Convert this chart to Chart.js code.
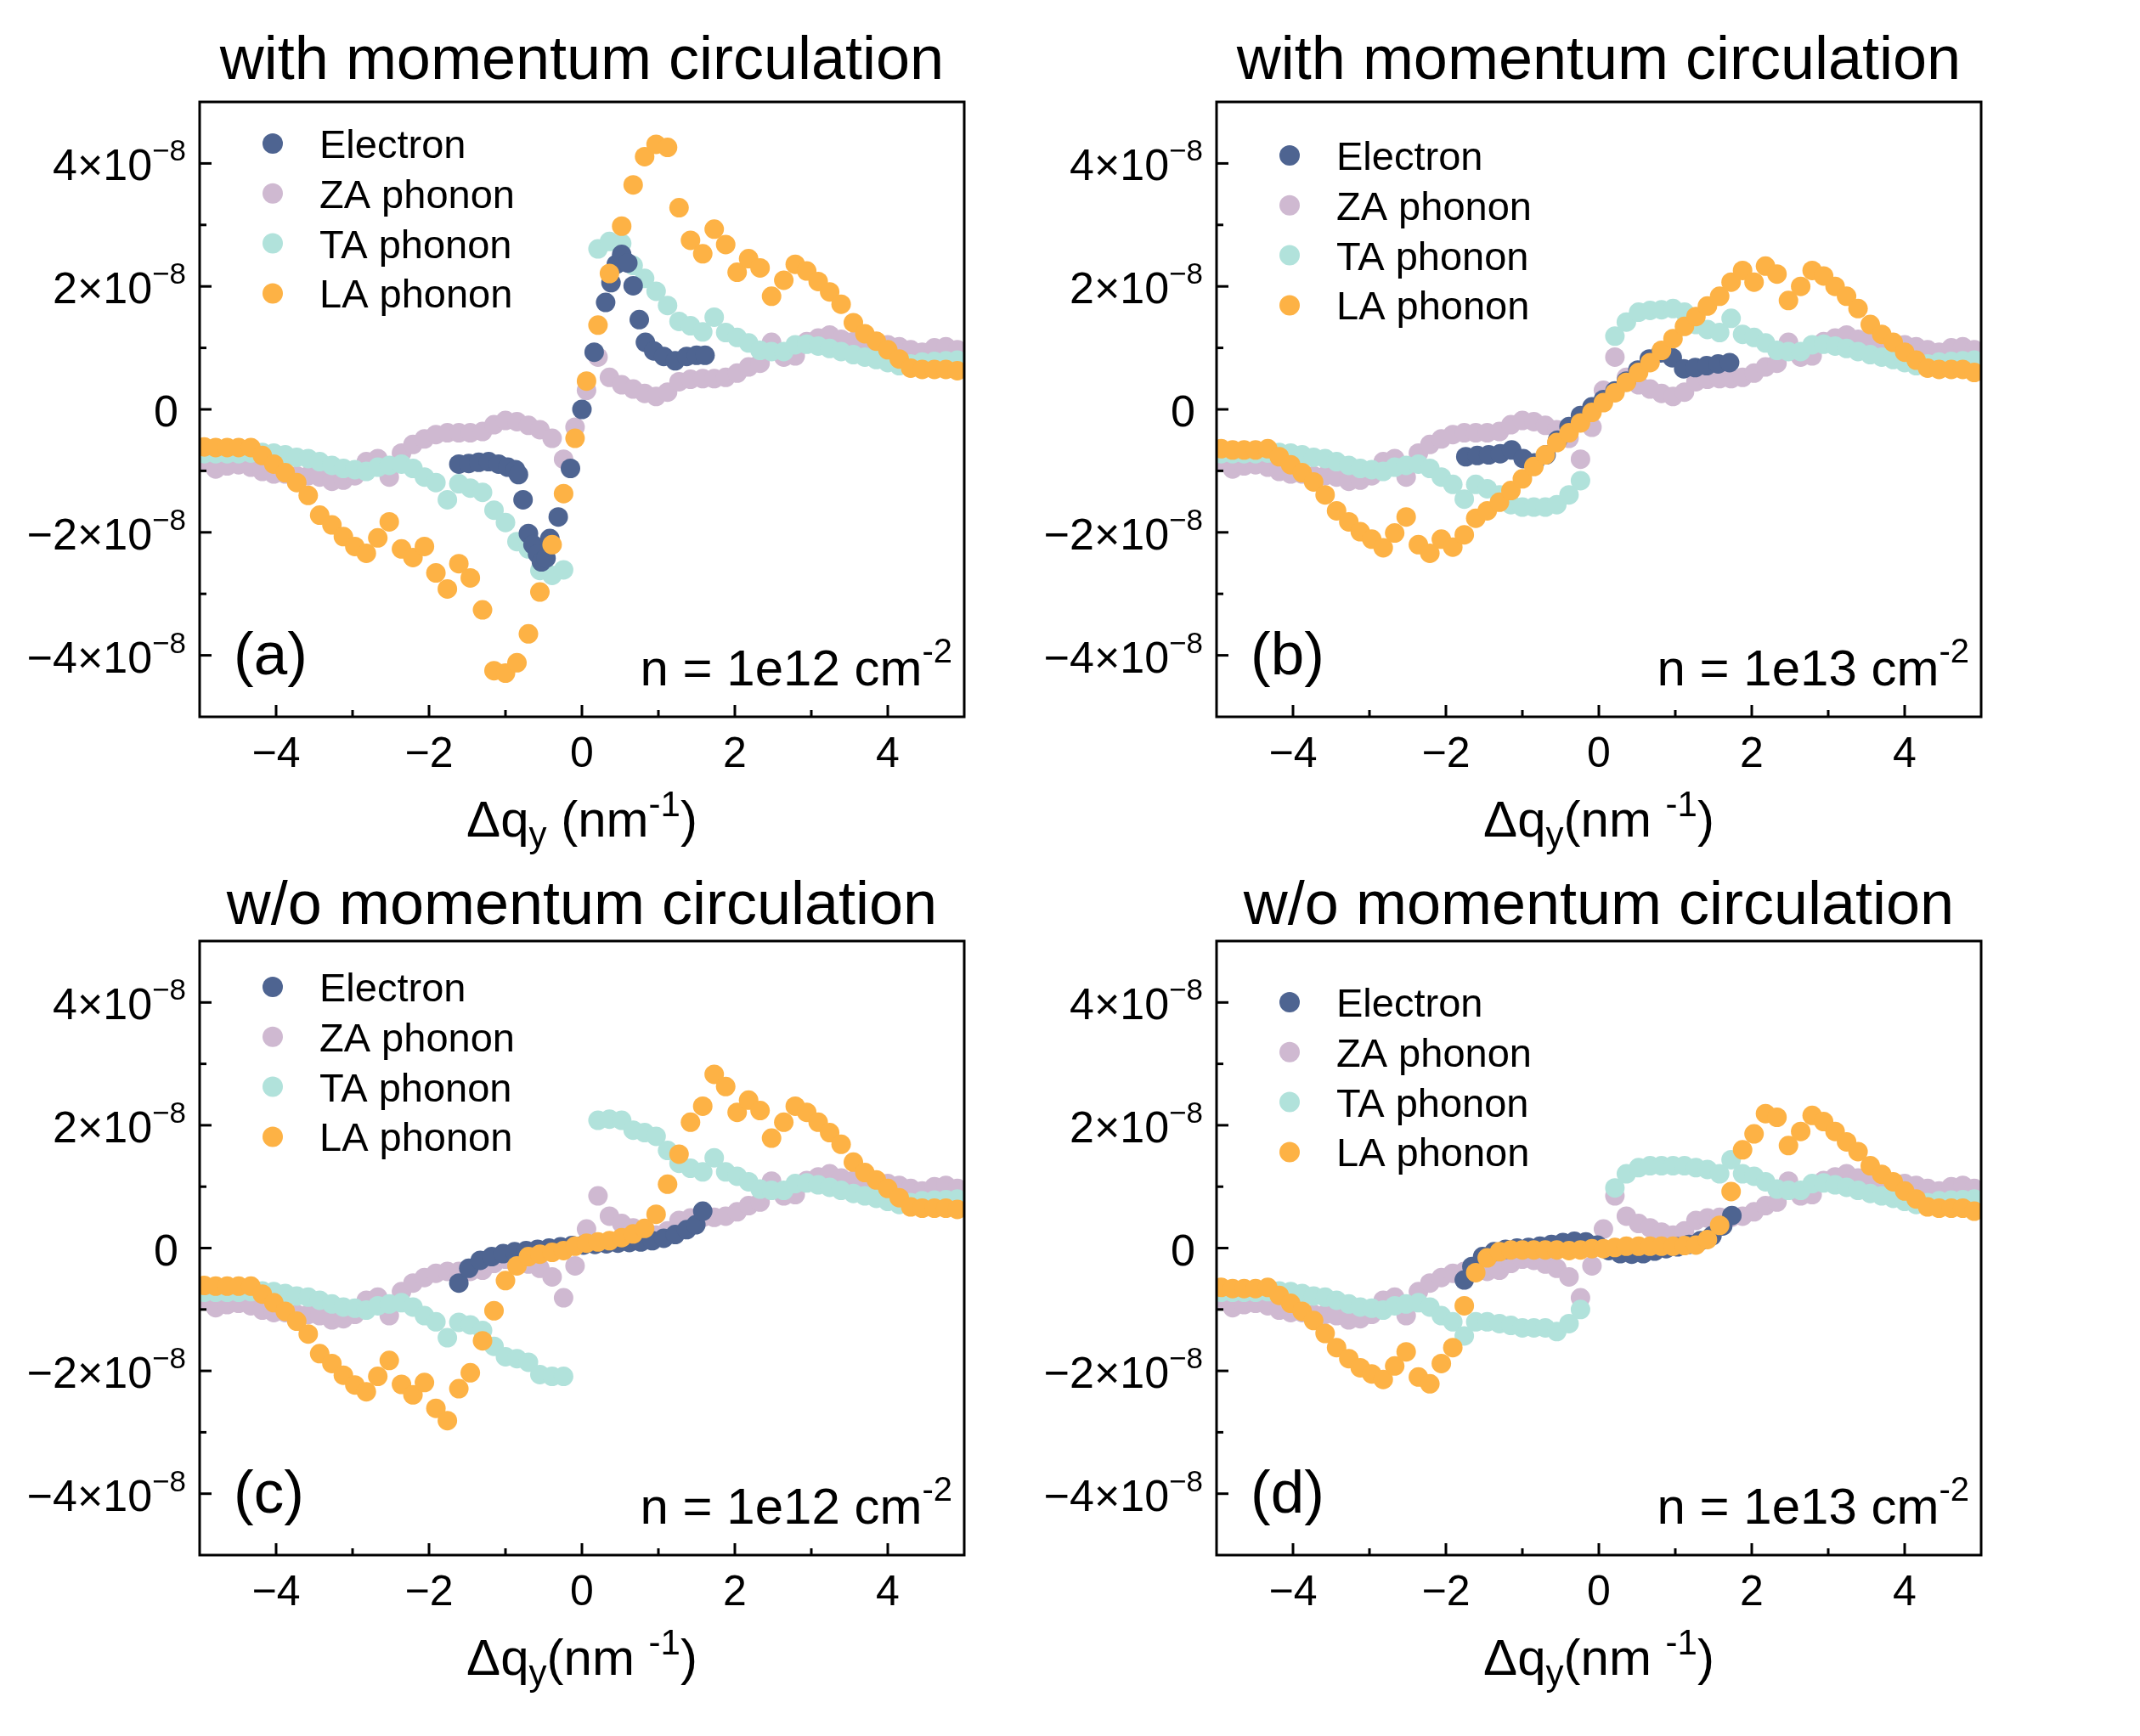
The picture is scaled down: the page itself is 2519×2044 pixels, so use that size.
<!DOCTYPE html>
<html><head><meta charset="utf-8">
<script src="https://cdn.jsdelivr.net/npm/chart.js@4.4.1/dist/chart.umd.min.js"></script>
<style>
html,body{margin:0;padding:0;background:#fff;}
#wrap{position:relative;width:2519px;height:2044px;background:#fff;overflow:hidden;}
canvas{position:absolute;}
</style></head><body><div id="wrap">
<canvas id="pa" width="1200" height="1020" style="left:0px;top:0px;width:1200px;height:1020px"></canvas>
<canvas id="pb" width="1319" height="1020" style="left:1200px;top:0px;width:1319px;height:1020px"></canvas>
<canvas id="pc" width="1200" height="1044" style="left:0px;top:1000px;width:1200px;height:1044px"></canvas>
<canvas id="pd" width="1319" height="1044" style="left:1200px;top:1000px;width:1319px;height:1044px"></canvas>
</div>
<script>
// ---------- data (values in units of 1e-8) ----------
const seriesNames = ['Electron', 'ZA phonon', 'TA phonon', 'LA phonon'];
const xTicks = [-4, -2, 0, 2, 4];
const yTicks = [4, 2, 0, -2, -4];   // ×10^-8

const qy = [-4.94,-4.79,-4.64,-4.49,-4.33,-4.18,-4.03,-3.88,-3.73,-3.58,
  -3.43,-3.27,-3.12,-2.97,-2.82,-2.67,-2.52,-2.36,-2.21,-2.06,
  -1.91,-1.76,-1.61,-1.46,-1.30,-1.15,-1.00,-0.85,-0.70,-0.55,
  -0.39,-0.24,-0.09,0.06,0.21,0.36,0.52,0.67,0.82,0.97,
  1.12,1.27,1.42,1.58,1.73,1.88,2.03,2.18,2.33,2.48,
  2.64,2.79,2.94,3.09,3.24,3.39,3.55,3.70,3.85,4.00,
  4.15,4.30,4.45,4.61,4.76,4.91];

const zaPhonon = [-0.85,-0.97,-0.92,-0.90,-0.94,-1.01,-1.05,-1.05,-1.08,-1.08,
  -1.10,-1.17,-1.15,-1.08,-0.85,-0.80,-1.10,-0.71,-0.57,-0.48,
  -0.41,-0.38,-0.38,-0.38,-0.36,-0.25,-0.18,-0.20,-0.26,-0.33,
  -0.47,-0.81,-0.29,0.31,0.85,0.52,0.40,0.33,0.26,0.21,
  0.28,0.45,0.49,0.50,0.50,0.52,0.59,0.69,0.75,1.09,
  0.85,0.87,1.10,1.16,1.21,1.14,1.10,1.08,1.07,1.05,
  1.02,0.97,0.93,1.00,1.02,0.97];

const taA = [-0.72,-0.72,-0.72,-0.72,-0.71,-0.70,-0.71,-0.74,-0.78,-0.80,
  -0.85,-0.91,-0.96,-0.98,-1.01,-0.94,-0.91,-0.89,-0.96,-1.10,
  -1.19,-1.47,-1.21,-1.28,-1.35,-1.64,-1.84,-2.15,-2.27,-2.62,
  -2.70,-2.61,null,null,2.61,2.73,2.70,2.34,2.13,1.92,
  1.69,1.43,1.36,1.26,1.50,1.25,1.17,1.08,0.96,0.94,
  0.94,1.05,1.06,1.03,0.99,0.94,0.89,0.85,0.81,0.76,
  0.71,0.74,0.77,0.78,0.79,0.80];
const taB = [-0.72,-0.72,-0.72,-0.72,-0.71,-0.70,-0.71,-0.74,-0.78,-0.80,
  -0.85,-0.91,-0.96,-0.98,-1.01,-0.94,-0.91,-0.89,-0.96,-1.10,
  -1.22,-1.46,-1.22,-1.29,-1.39,-1.55,-1.59,-1.59,-1.59,-1.55,
  -1.39,-1.16,null,null,1.19,1.42,1.58,1.61,1.62,1.64,
  1.58,1.38,1.30,1.25,1.48,1.22,1.17,1.08,0.96,0.94,
  0.94,1.05,1.06,1.03,0.99,0.94,0.89,0.85,0.81,0.76,
  0.71,0.74,0.77,0.78,0.79,0.80];
const taC = [-0.72,-0.72,-0.72,-0.72,-0.71,-0.70,-0.71,-0.74,-0.78,-0.80,
  -0.85,-0.91,-0.96,-0.98,-1.01,-0.94,-0.91,-0.89,-0.96,-1.10,
  -1.20,-1.46,-1.21,-1.25,-1.34,-1.60,-1.77,-1.80,-1.86,-2.06,
  -2.09,-2.09,null,null,2.08,2.10,2.08,1.92,1.88,1.82,
  1.59,1.38,1.30,1.24,1.47,1.24,1.17,1.08,0.96,0.94,
  0.94,1.05,1.06,1.03,0.99,0.94,0.89,0.85,0.81,0.76,
  0.71,0.74,0.77,0.78,0.79,0.80];
const taD = [-0.72,-0.72,-0.72,-0.72,-0.71,-0.70,-0.71,-0.74,-0.78,-0.80,
  -0.85,-0.91,-0.96,-0.98,-1.01,-0.94,-0.91,-0.89,-0.96,-1.10,
  -1.20,-1.43,-1.20,-1.20,-1.23,-1.26,-1.30,-1.30,-1.30,-1.36,
  -1.23,-1.00,null,null,0.98,1.21,1.31,1.34,1.34,1.34,
  1.34,1.31,1.28,1.21,1.44,1.21,1.17,1.08,0.96,0.94,
  0.94,1.05,1.06,1.03,0.99,0.94,0.89,0.85,0.81,0.76,
  0.71,0.74,0.77,0.78,0.79,0.80];

const laA = [-0.61,-0.62,-0.62,-0.62,-0.62,-0.75,-0.89,-1.03,-1.19,-1.40,
  -1.72,-1.88,-2.07,-2.23,-2.34,-2.09,-1.83,-2.27,-2.41,-2.23,
  -2.66,-2.92,-2.51,-2.74,-3.26,-4.25,-4.29,-4.12,-3.65,-2.97,
  -2.20,-1.37,-0.47,0.46,1.37,2.21,2.98,3.65,4.11,4.31,
  4.26,3.28,2.75,2.53,2.93,2.68,2.23,2.45,2.30,1.84,
  2.10,2.36,2.25,2.08,1.91,1.71,1.41,1.23,1.11,0.97,
  0.82,0.67,0.65,0.65,0.65,0.63];
const laB = [-0.64,-0.66,-0.66,-0.66,-0.64,-0.77,-0.90,-1.03,-1.18,-1.39,
  -1.65,-1.83,-1.99,-2.11,-2.25,-2.01,-1.75,-2.20,-2.34,-2.11,
  -2.24,-2.04,-1.77,-1.65,-1.51,-1.32,-1.13,-0.93,-0.74,-0.54,
  -0.38,-0.22,-0.05,0.11,0.27,0.44,0.60,0.76,0.96,1.15,
  1.35,1.51,1.68,1.84,2.07,2.26,2.07,2.33,2.20,1.77,
  2.00,2.26,2.17,2.00,1.84,1.64,1.38,1.22,1.09,0.93,
  0.80,0.67,0.65,0.65,0.65,0.60];
const laC = [-0.61,-0.62,-0.62,-0.62,-0.62,-0.75,-0.89,-1.03,-1.19,-1.40,
  -1.72,-1.88,-2.07,-2.23,-2.34,-2.09,-1.83,-2.22,-2.39,-2.19,
  -2.61,-2.81,-2.29,-2.03,-1.51,-1.02,-0.53,-0.29,-0.14,-0.10,
  -0.07,-0.04,0.03,0.08,0.10,0.12,0.17,0.23,0.32,0.55,
  1.04,1.53,2.05,2.31,2.83,2.63,2.21,2.41,2.24,1.79,
  2.05,2.31,2.21,2.05,1.88,1.69,1.40,1.23,1.11,0.97,
  0.82,0.67,0.65,0.65,0.65,0.63];
const laD = [-0.64,-0.66,-0.66,-0.66,-0.64,-0.77,-0.90,-1.03,-1.18,-1.39,
  -1.62,-1.80,-1.95,-2.05,-2.14,-1.92,-1.69,-2.10,-2.21,-1.88,
  -1.62,-0.94,-0.40,-0.16,-0.06,-0.03,-0.03,-0.03,-0.03,-0.03,
  -0.04,-0.03,-0.01,-0.01,0.01,0.03,0.03,0.03,0.03,0.03,
  0.04,0.05,0.14,0.37,0.92,1.60,1.86,2.19,2.13,1.67,
  1.90,2.16,2.06,1.90,1.73,1.57,1.34,1.20,1.08,0.93,
  0.80,0.67,0.65,0.65,0.65,0.60];

const elecAq = [-1.61,-1.48,-1.35,-1.22,-1.09,-0.97,-0.87,-0.83,-0.77,-0.70,
  -0.64,-0.58,-0.53,-0.47,-0.42,-0.31,-0.15,0.00,0.16,0.31,
  0.38,0.45,0.52,0.60,0.67,0.75,0.83,0.94,1.07,1.22,1.37,1.50,1.61];
const elecA = [-0.89,-0.88,-0.86,-0.85,-0.89,-0.94,-0.98,-1.06,-1.47,-2.02,
  -2.20,-2.35,-2.48,-2.42,-2.10,-1.75,-0.96,0.00,0.93,1.74,
  2.06,2.36,2.52,2.38,2.01,1.46,1.09,0.95,0.86,0.79,0.86,0.88,0.88];
const elecBq = [-1.74,-1.59,-1.44,-1.29,-1.14,-0.99,-0.84,-0.69,-0.54,-0.39,
  -0.24,-0.09,0.06,0.21,0.36,0.51,0.66,0.81,0.96,1.11,1.26,1.41,1.56,1.71];
const elecB = [-0.77,-0.75,-0.74,-0.72,-0.66,-0.80,-0.87,-0.74,-0.50,-0.28,
  -0.10,0.04,0.16,0.30,0.46,0.64,0.82,0.92,0.84,0.66,0.68,0.71,0.74,0.76];
const elecCq = [-1.61,-1.48,-1.33,-1.18,-1.03,-0.88,-0.73,-0.58,-0.43,-0.28,
  -0.13,0.02,0.17,0.32,0.47,0.62,0.77,0.92,1.07,1.22,1.37,1.49,1.58];
const elecC = [-0.57,-0.33,-0.20,-0.14,-0.09,-0.06,-0.04,-0.02,0.00,0.02,
  0.04,0.05,0.06,0.07,0.08,0.09,0.10,0.12,0.16,0.22,0.30,0.38,0.60];
const elecDq = [-1.76,-1.66,-1.52,-1.37,-1.22,-1.07,-0.92,-0.77,-0.62,-0.47,
  -0.32,-0.17,-0.02,0.13,0.28,0.43,0.58,0.73,0.88,1.03,1.18,1.33,1.48,1.62,1.74];
const elecD = [-0.52,-0.30,-0.14,-0.06,-0.02,0.00,0.01,0.03,0.06,0.09,
  0.11,0.10,0.05,-0.04,-0.09,-0.10,-0.09,-0.05,-0.01,0.02,0.06,0.12,0.20,0.36,0.53];

// ---------- style ----------
const FONT = '"Liberation Sans", Arial, Helvetica, sans-serif';
const COLORS = ['#4E6491', '#CFB9D1', '#B1E2DB', '#FDB245'];
const DRAW_ORDER = [1, 3, 2, 0];   // LA on top, then electron, TA, ZA

function pts(xs, vs) {
  const out = [];
  for (let i = 0; i < xs.length; i++) if (vs[i] !== null && vs[i] !== undefined) out.push({x: xs[i], y: vs[i] * 1e-8});
  return out;
}

function rich(ctx, parts, x, y, align) {
  let w = 0;
  parts.forEach(p => { ctx.font = p.s + 'px ' + FONT; p.w = ctx.measureText(p.t).width; w += p.w; });
  let cx = align === 'center' ? x - w / 2 : (align === 'right' ? x - w : x);
  ctx.textAlign = 'left'; ctx.textBaseline = 'alphabetic';
  parts.forEach(p => { ctx.font = p.s + 'px ' + FONT; ctx.fillText(p.t, cx, y + (p.dy || 0)); cx += p.w; });
}

function decor(spec) {
  return {
    id: 'decor_' + spec.tag,
    afterDraw(chart) {
      const ctx = chart.ctx, a = chart.chartArea, xs = chart.scales.x, ys = chart.scales.y;
      ctx.save();
      ctx.fillStyle = '#000'; ctx.strokeStyle = '#000'; ctx.lineWidth = 3; ctx.lineCap = 'butt';
      // inward ticks
      for (let v = -4; v <= 4; v++) {
        const L = (v % 2 === 0) ? 14 : 8;
        const px = xs.getPixelForValue(v);
        ctx.beginPath(); ctx.moveTo(px, a.bottom); ctx.lineTo(px, a.bottom - L); ctx.stroke();
        const py = ys.getPixelForValue(v * 1e-8);
        ctx.beginPath(); ctx.moveTo(a.left, py); ctx.lineTo(a.left + L, py); ctx.stroke();
      }
      ctx.strokeRect(a.left, a.top, a.right - a.left, a.bottom - a.top);
      // x tick labels
      ctx.font = '50px ' + FONT; ctx.textAlign = 'center'; ctx.textBaseline = 'alphabetic';
      xTicks.forEach(v => ctx.fillText(v < 0 ? '\u2212' + (-v) : String(v), xs.getPixelForValue(v), a.bottom + 59));
      // y tick labels
      yTicks.forEach(v => {
        const py = ys.getPixelForValue(v * 1e-8) + 20;
        if (v === 0) rich(ctx, [{t: '0', s: 52}], a.left - 25, py, 'right');
        else rich(ctx, [{t: (v < 0 ? '\u2212' : '') + Math.abs(v) + '\u00d710', s: 52}, {t: '\u22128', s: 35, dy: -23}], a.left - 16, py, 'right');
      });
      // title
      ctx.fillStyle = '#000';
      ctx.font = '72px ' + FONT; ctx.textAlign = 'center';
      ctx.fillText(spec.title, (a.left + a.right) / 2, a.top - spec.titleGap);
      // x axis title
      const xt = spec.spaced
        ? [{t: '\u0394q', s: 60}, {t: 'y', s: 42, dy: 12}, {t: ' (nm', s: 60}, {t: '-1', s: 42, dy: -24}, {t: ')', s: 60}]
        : [{t: '\u0394q', s: 60}, {t: 'y', s: 42, dy: 12}, {t: '(nm ', s: 60}, {t: '-1', s: 42, dy: -24}, {t: ')', s: 60}];
      rich(ctx, xt, (a.left + a.right) / 2, a.bottom + 141, 'center');
      // legend
      seriesNames.forEach((n, i) => {
        const cy = a.top + spec.legendTop + i * 58.8;
        ctx.fillStyle = COLORS[i];
        ctx.beginPath(); ctx.arc(a.left + 86, cy, 12, 0, Math.PI * 2); ctx.fill();
        ctx.fillStyle = '#000'; ctx.font = '47px ' + FONT; ctx.textAlign = 'left';
        ctx.fillText(n, a.left + 141, cy + 17);
      });
      // panel label and density
      ctx.font = '71px ' + FONT; ctx.textAlign = 'left';
      ctx.fillText(spec.tag, a.left + 40, a.bottom - 50);
      rich(ctx, [{t: 'n = ' + spec.density + ' cm', s: 60}, {t: '-2', s: 40, dy: -27}], a.right - 14, a.bottom - 37, 'right');
      ctx.restore();
    }
  };
}

function makePanel(id, spec) {
  const series = [pts(spec.eq, spec.ev), pts(qy, zaPhonon), pts(qy, spec.ta), pts(qy, spec.la)];
  const datasets = series.map((d, i) => ({
    label: seriesNames[i], data: d, order: DRAW_ORDER[i],
    backgroundColor: COLORS[i], borderColor: COLORS[i],
    pointRadius: 11.5, pointHoverRadius: 11.5, pointBorderWidth: 0, borderWidth: 0,
    clip: 0
  }));
  new Chart(document.getElementById(id), {
    type: 'scatter',
    data: {datasets},
    options: {
      responsive: false, animation: false, devicePixelRatio: 1, events: [],
      layout: {padding: spec.pad},
      scales: {
        x: {type: 'linear', min: -5, max: 5, display: false},
        y: {type: 'linear', min: -5e-8, max: 5e-8, display: false}
      },
      plugins: {legend: {display: false}, tooltip: {enabled: false}, title: {display: false}}
    },
    plugins: [decor(spec)]
  });
}

makePanel('pa', {tag: '(a)', title: 'with momentum circulation', titleGap: 27, spaced: true, legendTop: 49, density: '1e12',
  pad: {left: 235, right: 65, top: 120, bottom: 176}, eq: elecAq, ev: elecA, ta: taA, la: laA});
makePanel('pb', {tag: '(b)', title: 'with momentum circulation', titleGap: 27, spaced: false, legendTop: 63, density: '1e13',
  pad: {left: 232, right: 187, top: 120, bottom: 176}, eq: elecBq, ev: elecB, ta: taB, la: laB});
makePanel('pc', {tag: '(c)', title: 'w/o momentum circulation', titleGap: 20, spaced: false, legendTop: 54, density: '1e12',
  pad: {left: 235, right: 65, top: 108, bottom: 213}, eq: elecCq, ev: elecC, ta: taC, la: laC});
makePanel('pd', {tag: '(d)', title: 'w/o momentum circulation', titleGap: 20, spaced: false, legendTop: 72, density: '1e13',
  pad: {left: 232, right: 187, top: 108, bottom: 213}, eq: elecDq, ev: elecD, ta: taD, la: laD});
</script>
</body></html>
